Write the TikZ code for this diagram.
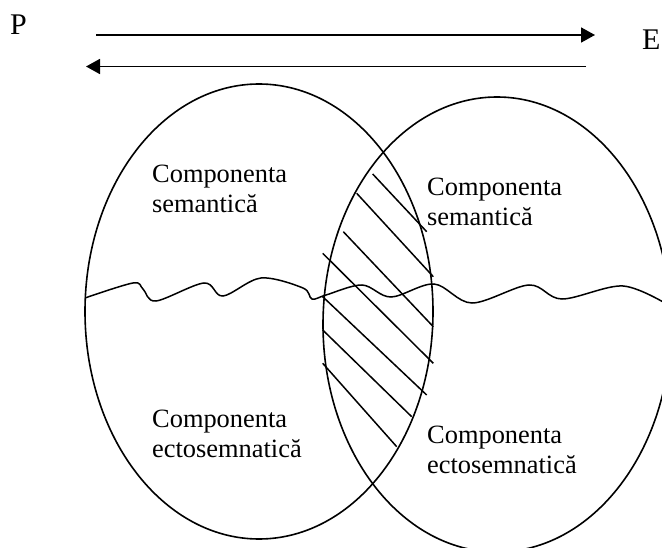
\documentclass[tikz,border=0pt]{standalone}
\usepackage{fontspec}
\setmainfont{Liberation Serif}
\usetikzlibrary{arrows.meta}
\begin{document}
\begin{tikzpicture}[x=1pt,y=-1pt,
  outline/.style={line width=1.6pt},
  flow/.style={line width=1.7pt,-{Triangle[length=14pt,width=15pt]}},
  hatch/.style={line width=1.5pt},
  wave/.style={line width=1.5pt},
  label/.style={inner sep=0pt,anchor=base west,font=\fontsize{26.4}{30}\selectfont},
  pole/.style={inner sep=0pt,anchor=base west,font=\fontsize{30}{34}\selectfont}]
\useasboundingbox (0,0) rectangle (662,548);
\clip (0,0) rectangle (662,548);

% poles and the two opposite flows
\node[pole] (P) at (10,35) {P};
\node[pole] (E) at (642,50) {E};
\coordinate (f1s) at (96,35);
\coordinate (f1e) at (595,35);
\coordinate (f2s) at (586,66.5);
\coordinate (f2e) at (86,66.5);
\draw[flow] (f1s) -- (f1e);
\draw[flow] (f2s) -- (f2e);

% the two overlapping fields
\draw[outline] (259,311.5) ellipse [x radius=174, y radius=227.5];
\draw[outline] (497,324.5) ellipse [x radius=174, y radius=227.5];

% hatching of the common zone
\draw[hatch] (372.7,174) -- (426.7,231.7);
\draw[hatch] (356.7,193.3) -- (433.3,276.7);
\draw[hatch] (343.3,231.7) -- (433.3,326.7);
\draw[hatch] (322.7,253.3) -- (433.3,363.3);
\draw[hatch] (322.7,296.7) -- (426.7,395);
\draw[hatch] (322.7,330) -- (411.7,416.7);
\draw[hatch] (322.7,363.3) -- (396.7,446.7);

% boundary between the semantic and ectosemantic components
\draw[wave] plot[smooth, tension=0.55] coordinates {
  (85,298) (133,283) (143,289) (156,301) (204,283) (223,296)
  (261,278) (303,288) (312,299) (326,295) (362,285) (391,297)
  (434,284) (472,303) (529,285) (562,299) (623,286) (670,306)};

% component labels
\node[label] (ls) at (152,183) {\begin{tabular}[t]{@{}l@{}}Componenta\\semantică\end{tabular}};
\node[label] (rs) at (427,196) {\begin{tabular}[t]{@{}l@{}}Componenta\\semantică\end{tabular}};
\node[label] (le) at (152,428) {\begin{tabular}[t]{@{}l@{}}Componenta\\ectosemnatică\end{tabular}};
\node[label] (re) at (427,443) {\begin{tabular}[t]{@{}l@{}}Componenta\\ectosemnatică\end{tabular}};
\end{tikzpicture}
\end{document}
